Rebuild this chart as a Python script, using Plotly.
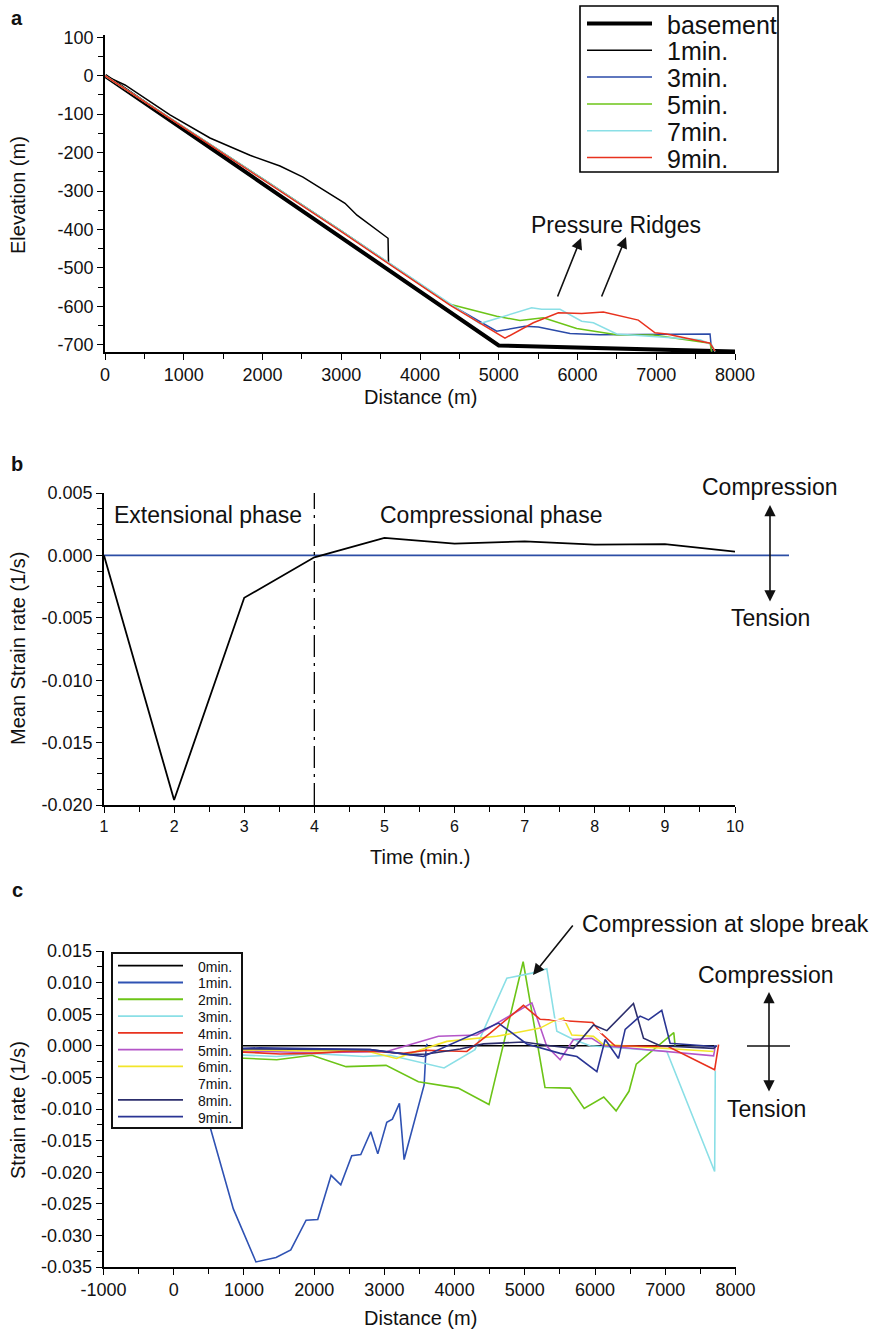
import plotly.graph_objects as go

W, H = 874, 1331
FONT = "Liberation Sans, Arial, sans-serif"

# ---------------- panel a: surface profiles ----------------
a_series = ["basement", "1min.", "3min.", "5min.", "7min.", "9min."]
a_colors = ["#000000", "#000000", "#2a4aa8", "#6cc417", "#8adfe6", "#e8321e"]
a_widths = [4, 1.5, 1.5, 1.5, 1.5, 1.5]

dist_basement = [0, 5000, 8000]
elev_basement = [0, -702, -718]

dist_1 = [0, 254, 825, 1333, 1841, 2222, 2514, 2819, 3048, 3200, 3594, 3600]
elev_1 = [0, -24, -102, -162, -207, -235, -264, -304, -332, -363, -423, -486]

dist_3 = [0, 1000, 2000, 3000, 4000, 4381, 4974, 5333, 5502, 5905, 6286, 7683, 7704]
elev_3 = [0, -133, -268, -404, -541, -595, -665, -652, -654, -671, -674, -672, -718]

dist_5 = [0, 1000, 2000, 3000, 4000, 4381, 4974, 5270, 5566, 5990, 6498, 6960, 7683, 7704]
elev_5 = [0, -133, -268, -404, -541, -595, -626, -637, -630, -658, -674, -675, -696, -718]

dist_7 = [0, 1000, 2000, 3000, 4000, 4381, 4762, 5418, 5545, 5778, 6053, 6201, 6498, 7556, 7704, 7746]
elev_7 = [0, -133, -268, -404, -541, -595, -645, -604, -608, -608, -639, -643, -672, -687, -700, -718]

dist_9 = [0, 1000, 2000, 3000, 4000, 4381, 5079, 5439, 5757, 6053, 6328, 6772, 6984, 7132, 7683, 7746]
elev_9 = [0, -134, -270, -406, -543, -597, -683, -643, -617, -619, -615, -636, -669, -672, -696, -717]

a_x = [dist_basement, dist_1, dist_3, dist_5, dist_7, dist_9]
a_y = [elev_basement, elev_1, elev_3, elev_5, elev_7, elev_9]

# ---------------- panel b: mean strain rate ----------------
time_min = [1, 2, 3, 4, 5, 6, 7, 8, 9, 10]
mean_rate = [0.0, -0.0196, -0.0034, -0.00015, 0.0014, 0.00095, 0.00112, 0.00086, 0.0009, 0.0003]

# ---------------- panel c: strain rate along profile ----------------
c_series = ["0min.", "1min.", "2min.", "3min.", "4min.", "5min.", "6min.", "7min.", "8min.", "9min."]
c_colors = ["#000000", "#2f52b3", "#6cc417", "#8adfe6", "#e8321e", "#b455c8",
            "#f2e52a", "#ffffff", "#2c2e6c", "#2a3594"]

c0_x = [0, 7700]
c0_y = [0.0, 0.0]
c1_x = [0, 250, 517, 849, 1171, 1457, 1667, 1885, 2051, 2241, 2379, 2535, 2664, 2806,
        2906, 3034, 3114, 3214, 3281, 3566, 3595, 3610]
c1_y = [0.0, -0.004, -0.0128, -0.0258, -0.0342, -0.0335, -0.0323, -0.0276, -0.0275, -0.0205,
        -0.022, -0.0174, -0.0172, -0.0136, -0.0171, -0.0121, -0.0116, -0.0091, -0.018,
        -0.0062, -0.0001, 0.0003]
c2_x = [0, 1001, 1467, 1967, 2454, 3024, 3484, 4051, 4490, 4976, 5287, 5646, 5845, 6124,
        6300, 6483, 6587, 7121, 7140]
c2_y = [-0.0015, -0.002, -0.0022, -0.0015, -0.0033, -0.0031, -0.0057, -0.0067, -0.0093,
        0.0133, -0.0066, -0.0067, -0.0099, -0.0081, -0.0103, -0.0072, -0.0029, 0.0021, 0.0]
c3_x = [0, 1000, 1467, 1967, 2701, 3081, 3556, 3850, 4290, 4744, 5100, 5313, 5456, 5693,
        5930, 7022, 7703, 7712]
c3_y = [-0.001, -0.0014, -0.0017, -0.0012, -0.0017, -0.0015, -0.0028, -0.0035, -0.0006,
        0.0107, 0.0115, 0.0122, 0.0023, 0.001, 0.0, -0.0009, -0.0199, -0.004]
c4_x = [0, 1000, 1514, 1990, 2416, 2891, 3271, 3604, 4174, 4506, 4980, 5218, 5503, 5965,
        6085, 6284, 7041, 7703, 7759]
c4_y = [-0.0008, -0.001, -0.0013, -0.0012, -0.0009, -0.0009, -0.0012, -0.0007, -0.0009,
        0.002, 0.0064, 0.0042, 0.004, 0.0037, 0.002, 0.0, -0.0001, -0.0038, 0.0002]
c5_x = [0, 1000, 1990, 3034, 3128, 3770, 4316, 5100, 5313, 5503, 5693, 5954, 6120, 7688, 7712]
c5_y = [-0.0007, -0.0008, -0.0011, -0.0009, -0.0006, 0.0015, 0.0017, 0.0068, -0.0001,
        -0.0022, 0.001, 0.0012, 0.0, -0.0016, 0.0]
c6_x = [0, 1000, 1990, 2701, 3172, 3366, 3889, 4601, 5218, 5408, 5550, 5669, 5977, 6120, 7688]
c6_y = [-0.0005, -0.0006, -0.0008, -0.0007, -0.002, -0.0012, 0.0007, 0.0015, 0.0028,
        0.0039, 0.0044, 0.0017, 0.0015, 0.0002, -0.0009]
c7_x = [5300, 5500, 5700, 5900, 6100]
c7_y = [0.0045, 0.004, 0.0035, 0.0033, 0.002]
c8_x = [0, 1000, 1990, 2796, 3366, 3603, 4079, 4411, 4981, 5361, 5693, 5978, 6168, 6547,
        6690, 6927, 7688, 7730]
c8_y = [-0.0004, -0.0005, -0.0006, -0.0006, -0.0014, -0.0013, -0.0005, 0.0003, 0.0006, 0.0,
        -0.0004, 0.0033, 0.0024, 0.0067, 0.0012, 0.0, -0.0004, 0.0]
c9_x = [0, 1000, 1229, 1990, 2796, 3271, 3556, 4624, 5028, 5503, 5741, 6026, 6144, 6334,
        6429, 6642, 6761, 6950, 7069, 7686, 7734]
c9_y = [-0.0003, -0.0004, -0.0003, -0.0005, -0.0006, -0.0013, -0.0017, 0.0036, 0.0003,
        -0.0012, -0.0017, -0.0041, 0.001, -0.002, 0.0026, 0.0047, 0.0041, 0.0056, 0.0004,
        -0.0001, 0.0]

c_x = [c0_x, c1_x, c2_x, c3_x, c4_x, c5_x, c6_x, c7_x, c8_x, c9_x]
c_y = [c0_y, c1_y, c2_y, c3_y, c4_y, c5_y, c6_y, c7_y, c8_y, c9_y]

# tick labels
a_xticks = [0, 1000, 2000, 3000, 4000, 5000, 6000, 7000, 8000]
a_yticks = [100, 0, -100, -200, -300, -400, -500, -600, -700]
b_xticks = [1, 2, 3, 4, 5, 6, 7, 8, 9, 10]
b_yticks = [0.005, 0.0, -0.005, -0.010, -0.015, -0.020]
c_xticks = [-1000, 0, 1000, 2000, 3000, 4000, 5000, 6000, 7000, 8000]
c_yticks = [0.015, 0.010, 0.005, 0.0, -0.005, -0.010, -0.015, -0.020, -0.025, -0.030, -0.035]


def fx(px):
    return px / W


def fy(py):
    return 1 - py / H


def ylab(v):
    return f"{v:.3f}".replace("-0.000", "0.000")


fig = go.Figure()

for name, xs, ys, col, lw in zip(a_series, a_x, a_y, a_colors, a_widths):
    fig.add_trace(go.Scatter(x=xs, y=ys, mode="lines", name=name, showlegend=False,
                             line=dict(color=col, width=lw), xaxis="x", yaxis="y"))

fig.add_trace(go.Scatter(x=time_min, y=mean_rate, mode="lines", showlegend=False,
                         line=dict(color="black", width=1.8), xaxis="x2", yaxis="y2"))

draw_order = [0, 1, 2, 3, 5, 6, 4, 7, 8, 9]
for i in draw_order:
    fig.add_trace(go.Scatter(x=c_x[i], y=c_y[i], mode="lines", name=c_series[i],
                             showlegend=False, line=dict(color=c_colors[i], width=1.6),
                             xaxis="x3", yaxis="y3"))

axis_common = dict(showgrid=False, zeroline=False, showline=True, linecolor="black",
                   linewidth=1.6, ticks="outside", ticklen=6, tickwidth=1.3,
                   tickcolor="black", automargin=False,
                   tickfont=dict(family=FONT, size=18, color="#111"))

fig.update_layout(
    template="none",
    width=W, height=H, margin=dict(l=0, r=0, t=0, b=0, pad=0),
    paper_bgcolor="white", plot_bgcolor="white", showlegend=False,
    font=dict(family=FONT, color="#111"),
    xaxis=dict(axis_common, domain=[fx(105), fx(735)], range=[0, 8000], anchor="y",
               tickvals=a_xticks, ticktext=[str(v) for v in a_xticks],
               minor=dict(dtick=500, ticklen=5, tickcolor="black", ticks="outside")),
    yaxis=dict(axis_common, domain=[fy(352), fy(35)], range=[-719, 106], anchor="x",
               tickvals=a_yticks, ticktext=[str(v) for v in a_yticks],
               minor=dict(dtick=50, ticklen=5, tickcolor="black", ticks="outside")),
    xaxis2=dict(axis_common, domain=[fx(104), fx(735)], range=[1, 10], anchor="y2",
                tickvals=b_xticks, ticktext=[str(v) for v in b_xticks],
                tickfont=dict(family=FONT, size=16, color="#111"),
                minor=dict(dtick=0.5, ticklen=5, tickcolor="black", ticks="outside")),
    yaxis2=dict(axis_common, domain=[fy(805), fy(493)], range=[-0.020, 0.005], anchor="x2",
                tickvals=b_yticks, ticktext=[ylab(v) for v in b_yticks],
                minor=dict(dtick=0.00125, ticklen=5, tickcolor="black", ticks="outside")),
    xaxis3=dict(axis_common, domain=[fx(103.5), fx(735.5)], range=[-1000, 8000], anchor="y3",
                tickvals=c_xticks, ticktext=[str(v) for v in c_xticks],
                minor=dict(dtick=500, ticklen=5, tickcolor="black", ticks="outside")),
    yaxis3=dict(axis_common, domain=[fy(1267), fy(951)], range=[-0.035, 0.015], anchor="x3",
                tickvals=c_yticks, ticktext=[ylab(v) for v in c_yticks],
                minor=dict(dtick=0.0025, ticklen=5, tickcolor="black", ticks="outside")),
)

shapes = []
ann = []


def text(px, py, s, size=20, bold=False, xanchor="center", rot=0):
    ann.append(dict(x=fx(px), y=fy(py), xref="paper", yref="paper", text=f"<b>{s}</b>" if bold else s,
                    showarrow=False, xanchor=xanchor, yanchor="middle", textangle=rot,
                    font=dict(family=FONT, size=size, color="#111")))


def arrow(tip, tail, both=False, width=1.6):
    ann.append(dict(x=fx(tip[0]), y=fy(tip[1]), xref="paper", yref="paper", text="",
                    showarrow=True, ax=tail[0] - tip[0], ay=tail[1] - tip[1],
                    arrowhead=2, arrowsize=1.4, arrowwidth=width, arrowcolor="#111",
                    arrowside="end+start" if both else "end", startarrowhead=2,
                    startarrowsize=1.4))


# panel letters and axis titles
text(17, 18, "a", 20, bold=True)
text(17, 464, "b", 20, bold=True)
text(17, 890, "c", 20, bold=True)
text(18, 195, "Elevation (m)", 20, rot=-90)
text(420, 397, "Distance (m)", 20)
text(18, 649, "Mean Strain rate (1/s)", 20, rot=-90)
text(420, 857, "Time (min.)", 20)
text(18, 1110, "Strain rate (1/s)", 20, rot=-90)
text(420, 1318, "Distance (m)", 20)

# panel a annotations
text(616, 225, "Pressure Ridges", 23)
arrow((581, 238), (557, 298))
arrow((626, 237), (601, 298))

# panel b annotations
text(208, 515, "Extensional phase", 23)
text(491, 515, "Compressional phase", 23)
text(770, 487, "Compression", 23)
text(770, 618, "Tension", 23)
arrow((770, 505), (770, 603), both=True)
shapes.append(dict(type="line", xref="x2", yref="paper", x0=4, x1=4, y0=fy(805), y1=fy(493),
                   line=dict(color="black", width=1.3, dash="22px,6px,3px,6px")))
shapes.append(dict(type="line", xref="paper", yref="y2", x0=fx(104), x1=fx(789), y0=0, y1=0,
                   line=dict(color="#2c4ea5", width=1.8), layer="below"))

# panel c annotations
text(725, 924, "Compression at slope break", 23)
arrow((533, 975), (574, 924))
text(766, 975, "Compression", 23)
text(766, 1109, "Tension", 23)
arrow((769, 992), (769, 1093), both=True)
shapes.append(dict(type="line", xref="paper", yref="paper", x0=fx(747), x1=fx(790),
                   y0=fy(1046), y1=fy(1046), line=dict(color="#111", width=1.6)))

# legend of panel a
shapes.append(dict(type="rect", xref="paper", yref="paper", x0=fx(580), x1=fx(778),
                   y0=fy(6), y1=fy(172), line=dict(color="black", width=1.6),
                   fillcolor="white"))
for k, (name, col, lw) in enumerate(zip(a_series, a_colors, a_widths)):
    yy = 23.5 + 26.8 * k
    shapes.append(dict(type="line", xref="paper", yref="paper", x0=fx(587), x1=fx(652),
                       y0=fy(yy), y1=fy(yy), line=dict(color=col, width=lw)))
    text(665, yy + 1, name, 25, xanchor="left")

# legend of panel c
shapes.append(dict(type="rect", xref="paper", yref="paper", x0=fx(112), x1=fx(242),
                   y0=fy(953), y1=fy(1128), line=dict(color="#111", width=2),
                   fillcolor="white", layer="above"))
for k, (name, col) in enumerate(zip(c_series, c_colors)):
    yy = 965.7 + 16.78 * k
    shapes.append(dict(type="line", xref="paper", yref="paper", x0=fx(118), x1=fx(183),
                       y0=fy(yy), y1=fy(yy), line=dict(color=col, width=1.8)))
    text(196, yy + 1, name, 14, xanchor="left")

fig.update_layout(shapes=shapes, annotations=ann)
fig.write_html("out.html")
